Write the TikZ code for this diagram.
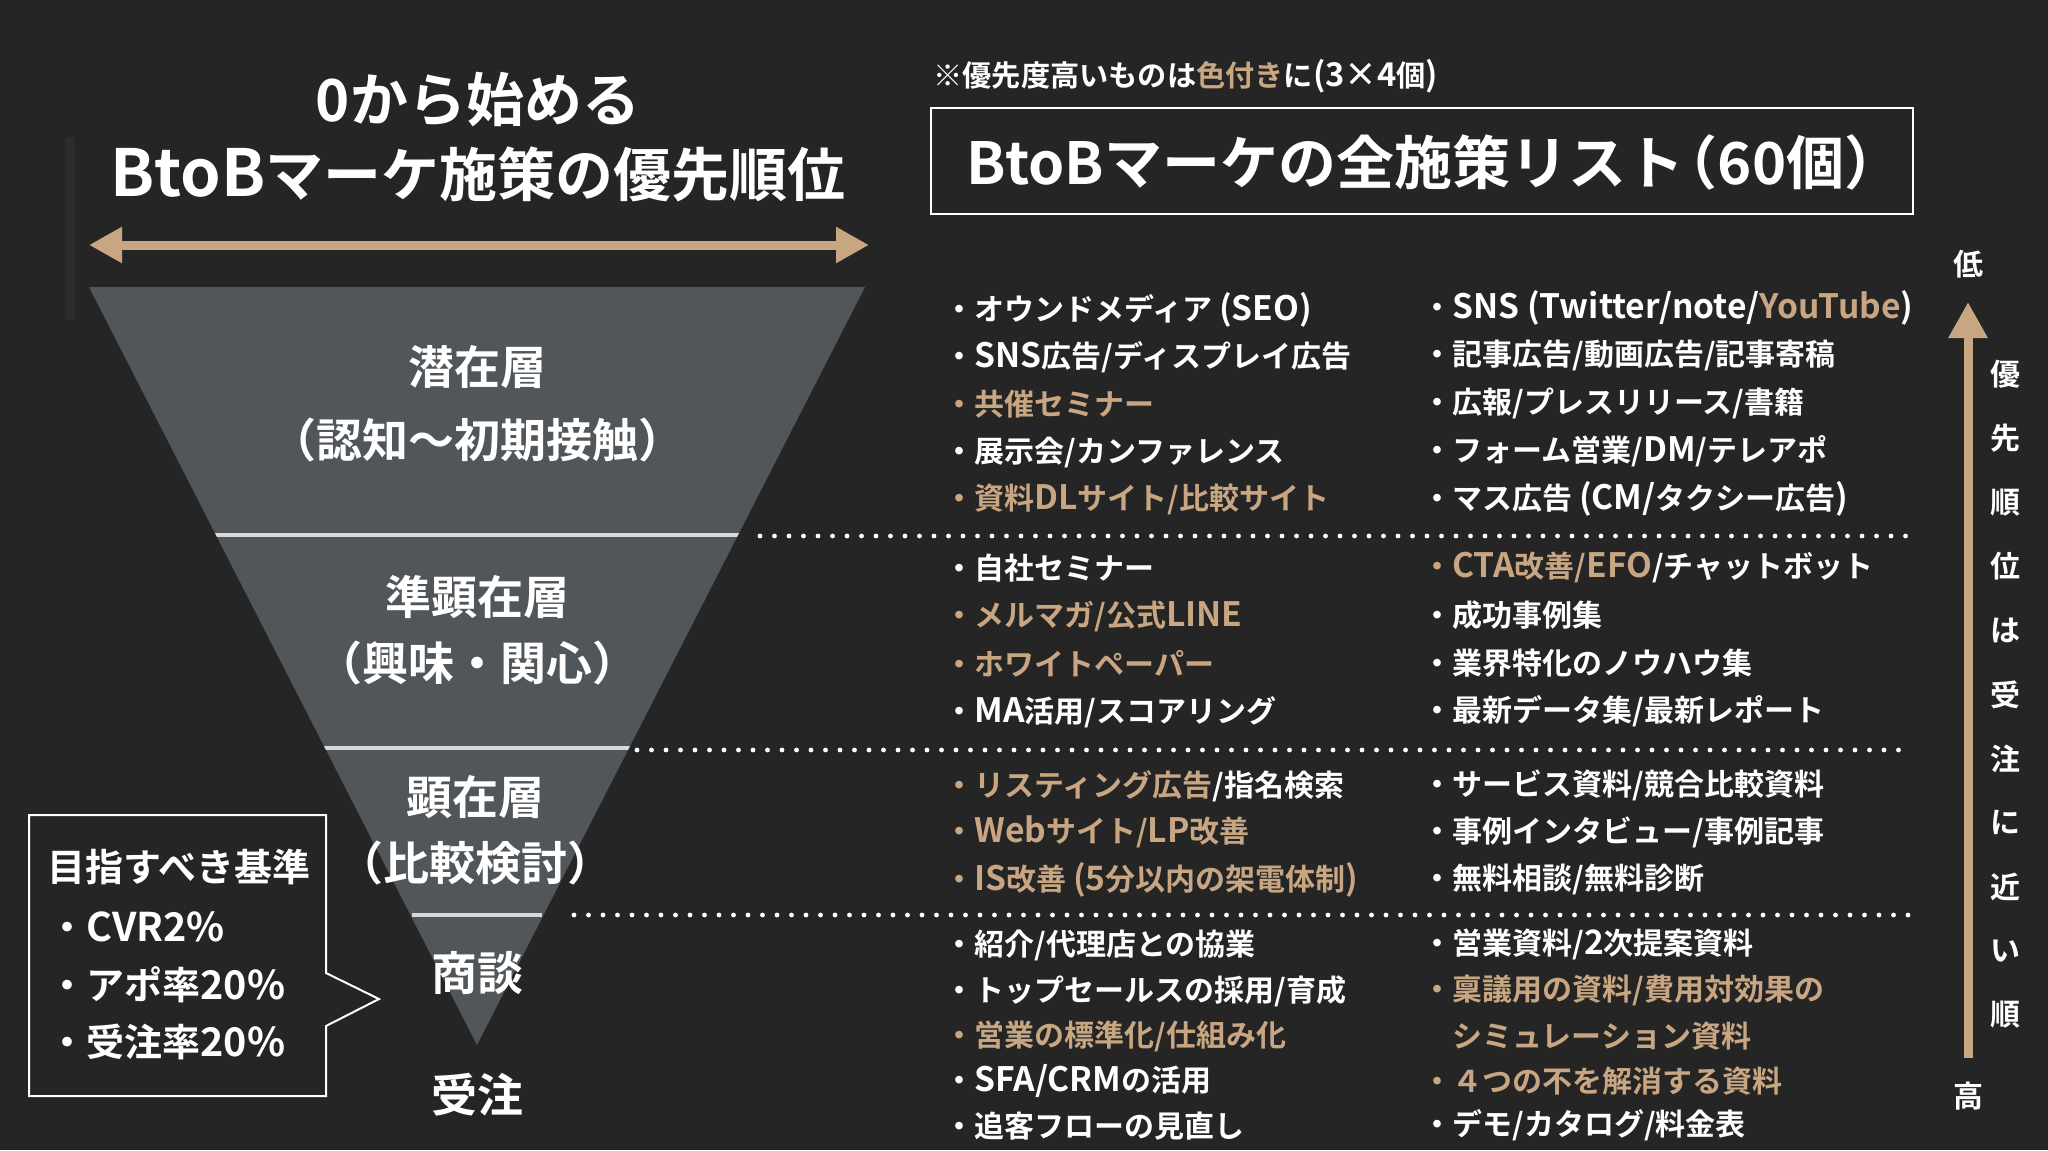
\documentclass[tikz,border=0pt]{standalone}
\usepackage{fontspec}
\setmainfont{Noto Sans CJK JP}[BoldFont={Noto Sans CJK JP Bold}]
\newfontfamily\latf{Noto Sans CJK JP}[Scale=1.12, BoldFont={Noto Sans CJK JP Bold}]
\newfontfamily\latg{Noto Sans CJK JP}[Scale=1.04, BoldFont={Noto Sans CJK JP Bold}]
\newcommand{\lat}[1]{{\latf\bfseries #1}}
\newcommand{\latc}[1]{{\latg\bfseries #1}}
\usetikzlibrary{arrows.meta}
\definecolor{bg}{HTML}{252525}
\definecolor{funnelc}{HTML}{51565B}
\definecolor{tan}{HTML}{C8A682}
\definecolor{sepc}{HTML}{D6D8DA}
\definecolor{faint}{HTML}{2C2C2C}
\newcommand{\LP}{\kern-0.42em（}
\newcommand{\RP}{）\kern-0.42em}
\begin{document}
\begin{tikzpicture}[x=0.5pt,y=-0.5pt,
  title/.style={font=\fontsize{29pt}{34pt}\selectfont\bfseries, text=white, inner sep=0pt},
  flabel/.style={font=\fontsize{23pt}{28pt}\selectfont\bfseries, text=white, inner sep=0pt},
  crit/.style={font=\fontsize{19pt}{23pt}\selectfont\bfseries, text=white, inner sep=0pt, anchor=west},
  item/.style={font=\fontsize{15pt}{18pt}\selectfont\bfseries, text=white, inner sep=0pt, anchor=west},
  tanitem/.style={item, text=tan},
  vchar/.style={font=\fontsize{15pt}{18pt}\selectfont\bfseries, text=white, inner sep=0pt},
  dotline/.style={draw=white, line width=2.4pt, line cap=round, dash pattern=on 0pt off 7.25pt},
  sepline/.style={draw=sepc, line width=2pt},
  tanarrow/.style={draw=tan, line width=4.5pt}
]
\useasboundingbox (0,0) rectangle (2048,1150);
\fill[bg] (0,0) rectangle (2048,1150);
% faint vertical bar
\fill[faint] (65,137) rectangle (75,320);

% titles
\node[title] (t1) at (478,100) {0から始める};
\node[title] (t2) at (478,174) {\lat{BtoB}マーケ施策の優先順位};

% double arrow
\coordinate (da) at (89,245);
\coordinate (db) at (869,245);
\draw[tanarrow, {Triangle[length=16.5pt,width=17pt]}-{Triangle[length=16.5pt,width=17pt]}] (da) -- (db);

% funnel
\fill[funnelc] (89,287) -- (865,287) -- (477,1045) -- cycle;
\begin{scope}
  \clip (89,287) -- (865,287) -- (477,1045) -- cycle;
  \coordinate (s1a) at (80,535); \coordinate (s1b) at (880,535);
  \coordinate (s2a) at (80,748); \coordinate (s2b) at (880,748);
  \coordinate (s3a) at (412,915); \coordinate (s3b) at (542,915);
  \draw[sepline] (s1a) -- (s1b);
  \draw[sepline] (s2a) -- (s2b);
  \draw[sepline] (s3a) -- (s3b);
\end{scope}

% dotted lines
\coordinate (d1a) at (760,536); \coordinate (d1b) at (1908,536);
\coordinate (d2a) at (637,750); \coordinate (d2b) at (1910,750);
\coordinate (d3a) at (574,915); \coordinate (d3b) at (1910,915);
\draw[dotline] (d1a) -- (d1b);
\draw[dotline] (d2a) -- (d2b);
\draw[dotline] (d3a) -- (d3b);

% funnel labels
\node[flabel] (f1) at (477,367) {潜在層};
\node[flabel] (f1b) at (477,440) {\LP 認知～初期接触\RP};
\node[flabel] (f2) at (477,597) {準顕在層};
\node[flabel] (f2b) at (477,663) {\LP 興味・関心\RP};
\node[flabel] (f3) at (475,797) {顕在層};
\node[flabel] (f3b) at (475,863) {\LP 比較検討\RP};
\node[flabel] (f4) at (477,973) {商談};
\node[flabel] (f5) at (477,1095) {受注};

% callout
\draw[white, line width=1pt, line join=miter] (29,815) -- (326,815) -- (326,973) -- (379,999) -- (326,1026) -- (326,1096) -- (29,1096) -- cycle;
\node[crit] (c0) at (47,867) {目指すべき基準};
\node[crit] (c1) at (48,927) {・\latc{CVR2\%}};
\node[crit] (c2) at (48,985) {・アポ率\latc{20\%}};
\node[crit] (c3) at (48,1042) {・受注率\latc{20\%}};

% right header
\node[item, font=\fontsize{14.6pt}{18pt}\selectfont\bfseries] (note) at (933,76) {※優先度高いものは\textcolor{tan}{色付き}に\lat{(3×4}個\lat{)}};
\draw[white, line width=1.2pt] (931,108) rectangle (1913,214);
\node[title] (hdr) at (1422,162) {BtoBマーケの全施策リスト\LP 60個\RP};

% list section 1
\node[item] (a1) at (944,310) {・オウンドメディア \lat{(SEO)}};
\node[item] (a2) at (944,357) {・\lat{SNS}広告/ディスプレイ広告};
\node[tanitem] (a3) at (944,404) {・共催セミナー};
\node[item] (a4) at (944,452) {・展示会/カンファレンス};
\node[tanitem] (a5) at (944,499) {・資料\lat{DL}サイト/比較サイト};
\node[item] (b1) at (1422,308) {・\lat{SNS (Twitter/note/}\textcolor{tan}{\lat{YouTube}}\lat{)}};
\node[item] (b2) at (1422,355) {・記事広告/動画広告/記事寄稿};
\node[item] (b3) at (1422,403) {・広報/プレスリリース/書籍};
\node[item] (b4) at (1422,451) {・フォーム営業/\lat{DM}/テレアポ};
\node[item] (b5) at (1422,499) {・マス広告 \lat{(CM/}タクシー広告\lat{)}};
% section 2
\node[item] (a6) at (944,568) {・自社セミナー};
\node[tanitem] (a7) at (944,616) {・メルマガ/公式\lat{LINE}};
\node[tanitem] (a8) at (944,664) {・ホワイトペーパー};
\node[item] (a9) at (944,712) {・\lat{MA}活用/スコアリング};
\node[item] (b6) at (1422,567) {\textcolor{tan}{・\lat{CTA}改善/\lat{EFO}}/チャットボット};
\node[item] (b7) at (1422,615) {・成功事例集};
\node[item] (b8) at (1422,663) {・業界特化のノウハウ集};
\node[item] (b9) at (1422,711) {・最新データ集/最新レポート};
% section 3
\node[item] (a10) at (944,786) {\textcolor{tan}{・リスティング広告}/指名検索};
\node[tanitem] (a11) at (944,832) {・\lat{Web}サイト/\lat{LP}改善};
\node[tanitem] (a12) at (944,880) {・\lat{IS}改善 \lat{(5}分以内の架電体制\lat{)}};
\node[item] (b10) at (1422,785) {・サービス資料/競合比較資料};
\node[item] (b11) at (1422,832) {・事例インタビュー/事例記事};
\node[item] (b12) at (1422,879) {・無料相談/無料診断};
% section 4
\node[item] (a13) at (944,945) {・紹介/代理店との協業};
\node[item] (a14) at (944,991) {・トップセールスの採用/育成};
\node[tanitem] (a15) at (944,1036) {・営業の標準化/仕組み化};
\node[item] (a16) at (944,1081) {・\lat{SFA/CRM}の活用};
\node[item] (a17) at (944,1126) {・追客フローの見直し};
\node[item] (b13) at (1422,944) {・営業資料/\lat{2}次提案資料};
\node[tanitem] (b14) at (1422,990) {・稟議用の資料/費用対効果の};
\node[tanitem] (b14b) at (1452,1036) {シミュレーション資料};
\node[tanitem] (b15) at (1422,1081) {・４つの不を解消する資料};
\node[item] (b16) at (1422,1125) {・デモ/カタログ/料金表};

% right priority arrow
\node[vchar] (lo) at (1968,264) {低};
\node[vchar] (hi) at (1968,1096) {高};
\coordinate (pa) at (1968,1058);
\coordinate (pb) at (1968,302);
\draw[tanarrow, -{Triangle[length=18pt,width=18.5pt]}] (pa) -- (pb);
\foreach \c [count=\i from 0] in {優,先,順,位,は,受,注,に,近,い,順}
  \node[vchar] (v\i) at (2005,374+\i*64.1) {\c};
\end{tikzpicture}
\end{document}
